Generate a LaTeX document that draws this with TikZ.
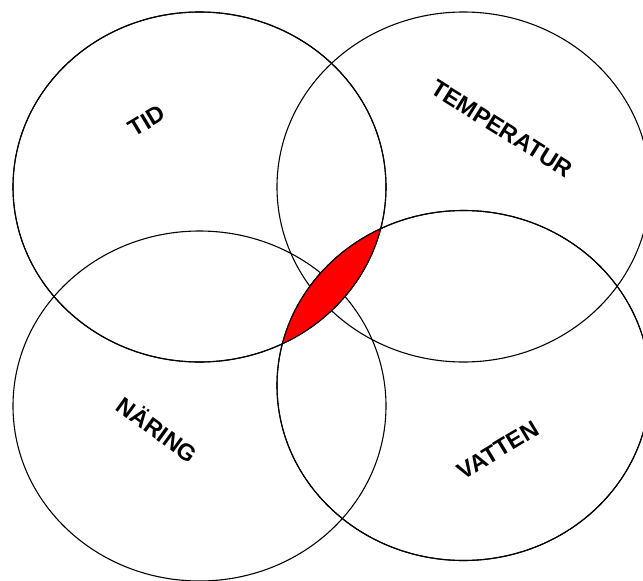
\documentclass[tikz,border=0pt]{standalone}
\usepackage{fontspec}
\setmainfont{Liberation Sans}
\usetikzlibrary{positioning}

\begin{document}
\begin{tikzpicture}[x=1pt, y=-1pt,
  ring/.style={draw=black, line width=1.1pt},
  lens/.style={fill=red},
  lbl/.style={font=\bfseries\fontsize{23.5}{24}\selectfont, inner sep=0pt}
]
\clip (0,0) rectangle (643,581);
% circle centres
\coordinate (ctid)  at (199.5,187);
\coordinate (ctemp) at (463.5,187);
\coordinate (cnar)  at (199.5,406);
\coordinate (cvat)  at (463.5,385.5);

\draw[ring] (ctid)  ellipse [x radius=186.5pt, y radius=175pt];
\draw[ring] (ctemp) ellipse [x radius=186.5pt, y radius=175pt];
\draw[ring] (cnar)  ellipse [x radius=186.5pt, y radius=175pt];
\draw[ring] (cvat)  ellipse [x radius=186.5pt, y radius=175pt];

% overlap of TID and VATTEN
\begin{scope}
  \clip (ctid) ellipse [x radius=186.5pt, y radius=175pt];
  \fill[lens] (cvat) ellipse [x radius=186.5pt, y radius=175pt];
\end{scope}
\draw[ring] (ctid) ellipse [x radius=186.5pt, y radius=175pt];
\draw[ring] (cvat) ellipse [x radius=186.5pt, y radius=175pt];

\node[lbl, rotate=31]  (tid)  at (147,121) {TID};
\node[lbl, rotate=-32] (temp) at (502,129) {TEMPERATUR};
\node[lbl, rotate=-36] (nar)  at (158,429) {NÄRING};
\node[lbl, rotate=31]  (vat)  at (498,450) {VATTEN};
\end{tikzpicture}
\end{document}
